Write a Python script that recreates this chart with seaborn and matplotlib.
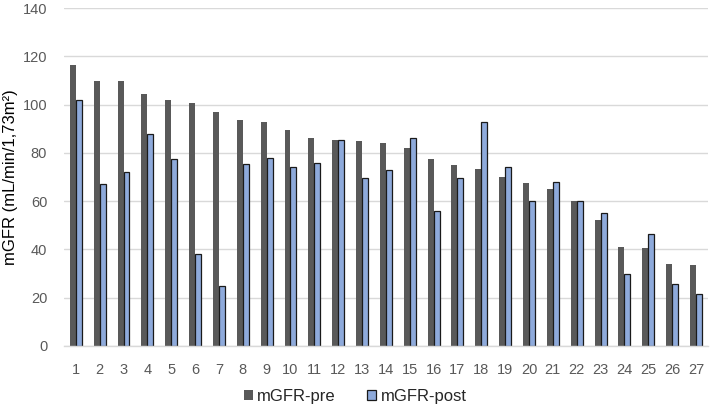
import matplotlib
matplotlib.use("Agg")
import matplotlib.pyplot as plt
import seaborn as sns
import pandas as pd
from matplotlib.patches import Patch

patients = [str(i) for i in range(1, 28)]
mgfr_pre = [116.5, 110, 110, 104.5, 102, 100.5, 97, 93.5, 93, 89.5, 86, 85.5, 85, 84, 82,
            77.5, 75, 73.5, 70, 67.5, 65, 60, 52, 41, 40.5, 34, 33.5]
mgfr_post = [102, 67, 72, 88, 77.5, 38, 25, 75.5, 78, 74, 76, 85.5, 69.5, 73, 86,
             56, 69.5, 93, 74, 60, 68, 60, 55, 30, 46.5, 25.5, 21.5]
series_names = ["mGFR-pre", "mGFR-post"]
y_ticks = [0, 20, 40, 60, 80, 100, 120, 140]

df = pd.DataFrame({
    "patient": patients * 2,
    "value": mgfr_pre + mgfr_post,
    "series": [series_names[0]] * len(patients) + [series_names[1]] * len(patients),
})

sns.set_theme(style="white")
plt.rcParams["font.family"] = ["Liberation Sans", "DejaVu Sans"]

fig = plt.figure(figsize=(7.1, 4.07), dpi=100)
ax = fig.add_axes([0.090, 0.150, 0.907, 0.830])

colors = {"mGFR-pre": "#595959", "mGFR-post": "#8EAADB"}
sns.barplot(data=df, x="patient", y="value", hue="series", order=patients,
            hue_order=series_names, palette=colors, width=0.5, dodge=True,
            ax=ax, legend=False, saturation=1)

for container, name in zip(ax.containers, series_names):
    for bar in container:
        if name == "mGFR-post":
            bar.set_edgecolor("#1a1a1a")
            bar.set_linewidth(0.9)
        else:
            bar.set_edgecolor("none")
            bar.set_linewidth(0)

ax.set_ylim(0, 140)
ax.set_yticks(y_ticks)
ax.set_xlim(-0.5, len(patients) - 0.5)
ax.yaxis.grid(True, color="#d9d9d9", linewidth=1)
ax.set_axisbelow(True)
for s in ["top", "right", "left"]:
    ax.spines[s].set_visible(False)
ax.spines["bottom"].set_color("#d9d9d9")
ax.spines["bottom"].set_linewidth(1)
ax.tick_params(axis="both", colors="#595959", labelsize=10.5, length=0)
ax.tick_params(axis="x", pad=12)
ax.tick_params(axis="y", pad=12)
ax.set_xlabel("")
ax.set_ylabel("mGFR (mL/min/1,73m²)", fontsize=12, color="#000000")
ax.yaxis.set_label_coords(-0.071, 0.5)

handles = [Patch(facecolor=colors["mGFR-pre"], edgecolor="none"),
           Patch(facecolor=colors["mGFR-post"], edgecolor="#1a1a1a", linewidth=0.9)]
leg = fig.legend(handles, series_names, loc="center", bbox_to_anchor=(0.5, 0.027),
                 ncol=2, frameon=False, fontsize=12, handlelength=0.55, handleheight=0.55,
                 handletextpad=0.25, columnspacing=1.9)

fig.savefig("out.png", dpi=100)
